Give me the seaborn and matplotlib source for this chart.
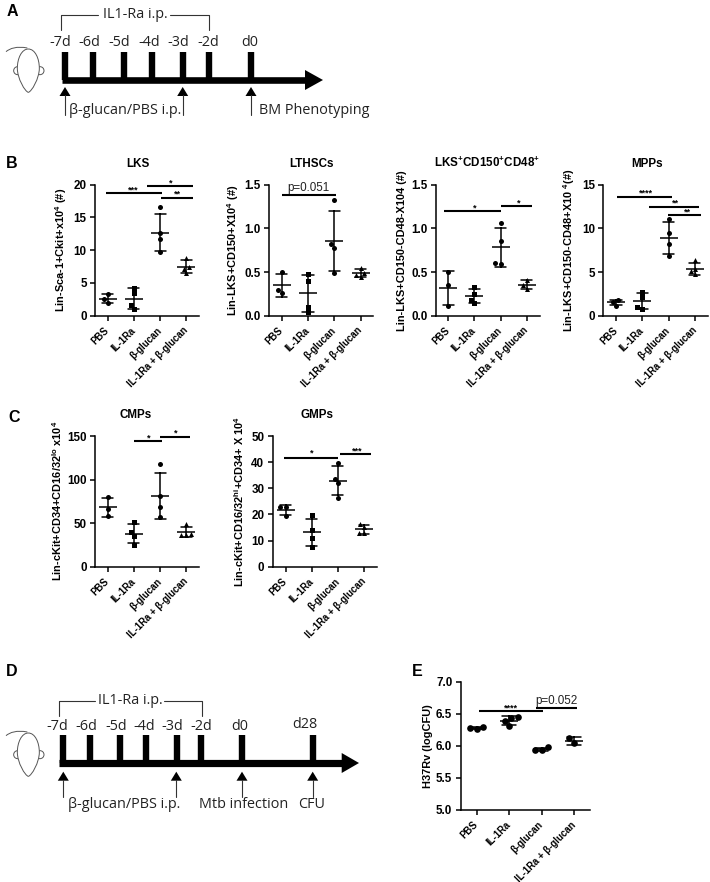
import matplotlib
matplotlib.use("Agg")
import matplotlib.pyplot as plt
from matplotlib.path import Path
from matplotlib.patches import PathPatch, Circle
import seaborn as sns

W, H = 710, 882

groups = ["PBS", "IL-1Ra", "β-glucan", "IL-1Ra + β-glucan"]
markers = ["o", "s", "o", "^"]
round_markers = ["o", "o", "o", "o"]

# values, one list per group
lks = [[3.3, 2.55, 2.0], [4.3, 3.5, 1.6, 1.0], [16.6, 12.6, 11.75, 9.8], [8.8, 7.4, 7.2, 6.5]]
lthsc = [[0.5, 0.295, 0.255], [0.477, 0.40, 0.10, 0.04], [1.32, 0.825, 0.78, 0.49], [0.55, 0.485, 0.465, 0.44]]
lks_cd = [[0.5, 0.35, 0.115], [0.33, 0.245, 0.18, 0.14], [1.065, 0.86, 0.605, 0.595], [0.41, 0.35, 0.31]]
mpp = [[1.8, 1.6, 1.15], [2.75, 2.15, 0.95, 0.8], [11.05, 9.5, 8.25, 6.8], [6.35, 5.4, 5.1, 4.75]]
cmp_vals = [[80, 66, 58], [51.7, 39.4, 35, 25], [118, 80.7, 68.5, 56.6], [48.6, 38, 36.5, 36.5]]
gmp = [[23, 22.8, 19.4], [19.9, 13.9, 11.1, 7.5], [39.7, 33.5, 31.9, 26.3], [16.4, 15.05, 12.9, 12.9]]
h37 = [[6.30, 6.28, 6.26], [6.46, 6.43, 6.39, 6.31], [5.98, 5.94, 5.93], [6.12, 6.04]]

lks_ticks = [0, 5, 10, 15, 20]
frac_ticks = [0.0, 0.5, 1.0, 1.5]
mpp_ticks = [0, 5, 10, 15]
cmp_ticks = [0, 50, 100, 150]
gmp_ticks = [0, 10, 20, 30, 40, 50]
h37_ticks = [5.0, 5.5, 6.0, 6.5, 7.0]

# significance bars: x0, x1, y, label, label x, label y
lks_sig = [(-0.06, 2.06, 18.7, "***", 0.99, 19.2), (1.49, 3.24, 19.8, "*", 2.41, 20.3), (2.05, 3.24, 18.0, "**", 2.66, 18.6)]
lthsc_sig = [(0, 2.05, 1.38, "p=0.051", 1.03, 1.466)]
lks_cd_sig = [(-0.17, 2.0, 1.2, "*", 1.0, 1.23), (2.0, 3.22, 1.26, "*", 2.69, 1.295)]
mpp_sig = [(0.05, 2.14, 13.63, "****", 1.15, 14.05), (1.27, 3.17, 12.5, "**", 2.25, 12.85), (1.97, 3.24, 11.5, "**", 2.7, 11.85)]
cmp_sig = [(1.02, 2.06, 144.7, "*", 1.58, 148), (2.0, 3.15, 148.9, "*", 2.59, 153)]
gmp_sig = [(-0.05, 2.0, 41.7, "*", 1.01, 43.4), (2.08, 3.28, 43.1, "***", 2.73, 44.2)]
h37_sig = [(0.07, 2.05, 6.54, "****", 1.05, 6.6), (1.83, 3.1, 6.6, "p=0.052", 2.47, 6.71)]

sns.set_style("ticks")
plt.rcParams["font.family"] = ["Liberation Sans", "DejaVu Sans"]
plt.rcParams["mathtext.default"] = "regular"
plt.rcParams["axes.linewidth"] = 1.1
plt.rcParams["axes.edgecolor"] = "black"
plt.rcParams["text.color"] = "black"
plt.rcParams["axes.labelcolor"] = "black"
plt.rcParams["xtick.color"] = "black"
plt.rcParams["ytick.color"] = "black"

fig = plt.figure(figsize=(W / 100, H / 100), dpi=100)


def panel(box, tick0, spacing, values, ticks, ylabel, label_x, sig, size=3.6, tick_fmt=None, marks=markers):
    left, top, right, bottom = box
    ax = fig.add_axes([left / W, 1 - bottom / H, (right - left) / W, (bottom - top) / H])
    for name, vals, m in zip(groups, values, marks):
        sns.swarmplot(x=[name] * len(vals), y=vals, order=groups, marker=m, size=size,
                      color="black", linewidth=0, zorder=3, ax=ax)
    rows_x = [g for g, vals in zip(groups, values) for _ in vals]
    rows_y = [v for vals in values for v in vals]
    sns.pointplot(x=rows_x, y=rows_y, order=groups, errorbar="sd", linestyle="none", marker="_",
                  markersize=12.5, markeredgewidth=1.1, capsize=0.42, color="black",
                  err_kws={"linewidth": 1.1}, ax=ax)
    ax.set_xlim(-(tick0 - left) / spacing, 3 + (right - (tick0 + 3 * spacing)) / spacing)
    ax.set_ylim(ticks[0], ticks[-1])
    ax.set_yticks(ticks)
    if tick_fmt:
        ax.set_yticklabels([tick_fmt % t for t in ticks])
    ax.set_xticks(range(4))
    ax.set_xticklabels(groups, rotation=45, ha="right", va="center", rotation_mode="anchor",
                       fontsize=6.9, fontweight="bold")
    ax.tick_params(axis="both", length=3.5, width=1.1, pad=2.5, color="black")
    ax.tick_params(axis="x", pad=6)
    ax.tick_params(axis="y", labelsize=8.4)
    for t in ax.get_yticklabels():
        t.set_fontweight("bold")
    ax.set_xlabel("")
    ax.set_ylabel(ylabel, fontsize=7.9, fontweight="bold")
    ax.yaxis.set_label_coords((label_x - left) / (right - left), 0.5)
    sns.despine(ax=ax)
    for x0, x1, y, text, tx, ty in sig:
        ax.plot([x0, x1], [y, y], color="black", lw=1.5, solid_capstyle="butt", clip_on=False)
        if text.startswith("p"):
            ax.text(tx, ty, text, ha="center", va="center", fontsize=8.4, color="#222222")
        else:
            ax.text(tx, ty, text, ha="center", va="center", fontsize=6.5, fontweight="bold")
    return ax


panel((95, 184.7, 199, 315.7), 107.7, 26.2, lks, lks_ticks, "Lin-Sca-1+Ckit+x10$^{4}$ (#)", 69, lks_sig)
panel((269.3, 184.7, 373, 315.7), 281.7, 26.3, lthsc, frac_ticks, "Lin-LKS+CD150+X10$^{4}$ (#)", 240.7, lthsc_sig, tick_fmt="%.1f")
panel((435.7, 184.7, 540, 315.7), 448.3, 26.1, lks_cd, frac_ticks, "Lin-LKS+CD150-CD48-X104 (#)", 407, lks_cd_sig, tick_fmt="%.1f")
panel((603.3, 184.7, 708, 315.7), 616, 26.3, mpp, mpp_ticks, "Lin-LKS+CD150-CD48+X10 $^{4}$(#)", 577, mpp_sig)
panel((95, 436, 199, 566.7), 107.7, 26.2, cmp_vals, cmp_ticks, "Lin-cKit+CD34+CD16/32$^{lo}$ x10$^{4}$", 64, cmp_sig)
panel((272.7, 436, 377, 566.7), 285.7, 26.1, gmp, gmp_ticks, "Lin-cKit+CD16/32$^{hi}$+CD34+ X 10$^{4}$", 246, gmp_sig)
panel((460.7, 682, 590, 810), 476.7, 32.4, h37, h37_ticks, "H37Rv (logCFU)", 433, h37_sig, size=4.8, tick_fmt="%.1f", marks=round_markers)

# overlay in picture pixels for the schematics and titles
ov = fig.add_axes([0, 0, 1, 1], zorder=-1)
ov.set_xlim(0, W)
ov.set_ylim(H, 0)
ov.axis("off")

for letter, x, y in [("A", 12, 12), ("B", 12, 163), ("C", 14, 417), ("D", 12, 671), ("E", 417, 672)]:
    ov.text(x, y, letter, fontsize=11.5, fontweight="bold", ha="center", va="center")

for title, x, y in [("LKS", 138, 164), ("LTHSCs", 311.7, 164), ("LKS$^{+}$CD150$^{+}$CD48$^{+}$", 486.7, 163),
                    ("MPPs", 647, 164), ("CMPs", 136, 415), ("GMPs", 316.7, 415)]:
    ov.text(x, y, title, fontsize=8.4, fontweight="bold", ha="center", va="center")

SCHEMA_FONT = ["Open Sans", "DejaVu Sans"]
SCHEMA_COLOR = "#222222"


def mouse(dx, dy, s):
    pts = [(85, 147), (105, 147), (118, 175), (118, 205), (118, 235), (95, 275), (85, 277),
           (75, 275), (52, 235), (52, 205), (52, 175), (65, 147), (85, 147)]
    codes = [Path.MOVETO] + [Path.CURVE4] * 12
    head = Path([(px * s / 3 + dx, py * s / 3 + dy) for px, py in pts], codes)
    ov.add_patch(PathPatch(head, fc="white", ec="#555555", lw=0.7, zorder=2))
    for ex in (53, 120):
        ov.add_patch(Circle((ex * s / 3 + dx, 212 * s / 3 + dy), 4 * s, fc="white", ec="#555555", lw=0.7, zorder=1))
    tail = [(18, 155), (30, 145), (50, 138), (82, 144)]
    tail_path = Path([(px * s / 3 + dx, py * s / 3 + dy) for px, py in tail], [Path.MOVETO] + [Path.CURVE4] * 3)
    ov.add_patch(PathPatch(tail_path, fc="none", ec="#555555", lw=0.7, zorder=3))


def timeline(x0, tip, head_x, y, half, head_half, tick_x, tick_top, labels, label_x, label_y,
             bracket, text_mid, arrows, arrow_top, arrow_bottom, notes, note_y):
    ov.plot([x0, head_x], [y, y], color="black", lw=half * 2 * 0.72, solid_capstyle="butt")
    ov.fill([head_x, tip, head_x], [y - head_half, y, y + head_half], color="black", lw=0)
    ov.vlines(tick_x, tick_top, y, color="black", lw=4.6)
    for lab, lx, ly in zip(labels, label_x, label_y):
        ov.text(lx, ly, lab, fontsize=10.4, family=SCHEMA_FONT, color=SCHEMA_COLOR, ha="center", va="center")
    bl, bt, bb, br, gap_l, gap_r = bracket
    ov.plot([bl, bl, gap_l], [bb, bt, bt], color="#333333", lw=0.8)
    ov.plot([gap_r, br, br], [bt, bt, bb], color="#333333", lw=0.8)
    ov.text(text_mid, bt, "IL1-Ra i.p.", fontsize=10.4, family=SCHEMA_FONT, color=SCHEMA_COLOR, ha="center", va="center")
    for ax_x in arrows:
        ov.plot([ax_x, ax_x], [arrow_top + 8, arrow_bottom], color="#333333", lw=0.8)
        ov.fill([ax_x - 5.5, ax_x, ax_x + 5.5], [arrow_top + 9, arrow_top, arrow_top + 9], color="black", lw=0)
    for text, nx in notes:
        ov.text(nx, note_y, text, fontsize=10.4, family=SCHEMA_FONT, color=SCHEMA_COLOR, ha="left", va="center")


days_a = ["-7d", "-6d", "-5d", "-4d", "-3d", "-2d", "d0"]
days_d = days_a + ["d28"]

timeline(62, 323, 305, 80, 3.3, 10, [64.7, 93.3, 123.7, 151.7, 182.7, 208.7, 250.7], 51.7,
         days_a, [60, 89.3, 119, 149, 178.3, 208.3, 250], [42.7] * 7,
         (60.7, 15, 29.5, 208.7, 98, 170), 135, [65, 182.7, 251], 87, 115,
         [("β-glucan/PBS i.p.", 69), ("BM Phenotyping", 259)], 111)
mouse(0, 0, 1.0)

timeline(59.3, 359, 341.7, 763, 3.6, 10, [62.7, 90, 119.7, 146.3, 176.7, 201, 242, 312.7], 735,
         days_d, [57.7, 86.7, 115.7, 144.3, 172.7, 201, 240, 305], [726.7] * 7 + [725],
         (58.7, 700.7, 715.7, 201.7, 95, 164.3), 130.7, [63.3, 176.3, 242, 312.7], 771.7, 796.7,
         [("β-glucan/PBS i.p.", 67.7), ("Mtb infection", 199), ("CFU", 297.7)], 805)
mouse(0, 684, 1.0)

fig.savefig("out.png", dpi=100)
